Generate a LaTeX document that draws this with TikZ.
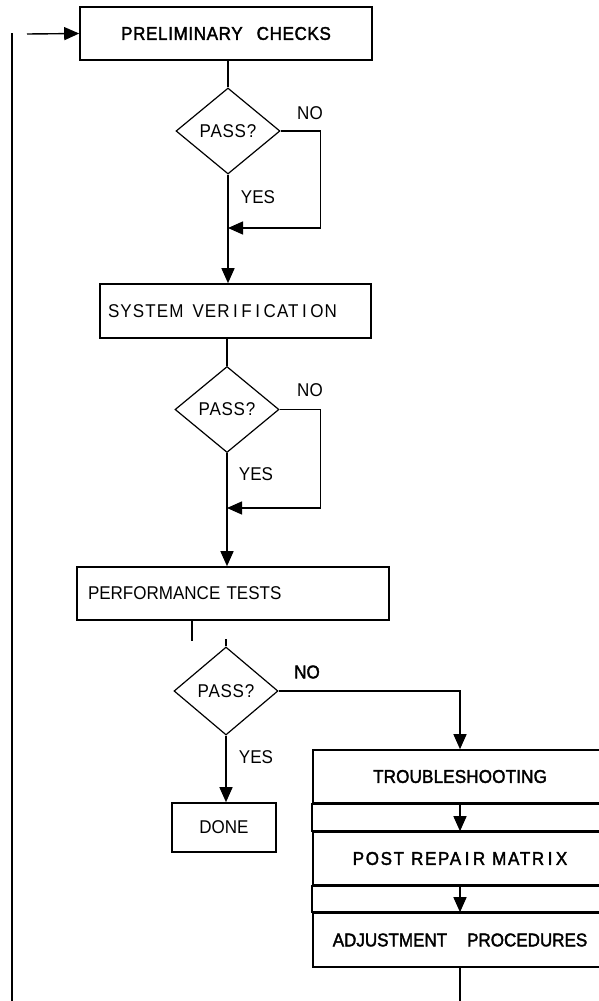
\documentclass[tikz,border=0pt]{standalone}
\usepackage{fontspec}
\setmainfont{Liberation Sans}[FakeStretch=0.92]
\newfontfamily\heavyfont[FakeBold=2,FakeStretch=0.92]{Liberation Sans}
\usetikzlibrary{arrows.meta}
\usetikzlibrary{shapes.geometric}
\newcommand{\wideI}{\kern3.5pt I\kern3.5pt}

\begin{document}
\begin{tikzpicture}[x=1pt, y=-1pt, >={Triangle[length=15pt,width=13pt]}, font=\fontsize{18.5}{21}\selectfont]
		\tikzstyle{box}=[rectangle, draw, line width=1.6pt, inner sep=0pt, minimum height=53pt]
		\tikzstyle{test}=[diamond, draw, line width=1.2pt, inner sep=0pt, minimum width=104pt, minimum height=86pt]
		\tikzstyle{connect}=[->, line width=1.4pt]
		\tikzstyle{answer}=[inner sep=0pt]
		\tikzstyle{heavy}=[font=\heavyfont\fontsize{18.5}{21}\selectfont]
		\useasboundingbox (0,0) rectangle (598,1001);
		% main column
		\node[box, heavy, minimum width=292pt] (prelim) at (226,33.5) {\addfontfeature{LetterSpace=3.5}PRELIMINARY\hspace{14pt}CHECKS};
		\node[test] (pass1) at (228,131) {\addfontfeature{LetterSpace=4}PASS?};
		\node[box, minimum width=271pt, minimum height=54pt, text width=255pt, inner xsep=8pt, align=left] (sysver) at (235.5,311) {\addfontfeature{LetterSpace=6}SYSTEM\hspace{9pt}VER\wideI F\wideI CAT\wideI ON};
		\node[test] (pass2) at (227,409.5) {\addfontfeature{LetterSpace=4}PASS?};
		\node[box, minimum width=312pt, text width=290pt, inner xsep=11pt, align=left] (perf) at (233,593.5) {PERFORMANCE TESTS};
		\node[test, minimum height=88pt] (pass3) at (226,691) {\addfontfeature{LetterSpace=4}PASS?};
		\node[box, minimum width=104pt, minimum height=49pt] (done) at (224,827.5) {DONE};
		% repair column
		\node[box, heavy, minimum width=294pt] (trouble) at (460,776.5) {\addfontfeature{LetterSpace=1}TROUBLESHOOTING};
		\node[box, heavy, minimum width=294pt] (postrep) at (460,858.5) {\addfontfeature{LetterSpace=9}POST\hspace{7pt}REPA\wideI R\hspace{7pt}MATR\wideI X};
		\node[box, heavy, minimum width=294pt, minimum height=54pt] (adjust) at (460,940) {ADJUSTMENT\hspace{20pt}PROCEDURES};
		% answers
		\node[answer] (no1) at (310,113) {NO};
		\node[answer] (yes1) at (258,197) {YES};
		\node[answer] (no2) at (310,390) {NO};
		\node[answer] (yes2) at (256,474) {YES};
		\node[answer, heavy] (no3) at (307,672) {NO};
		\node[answer] (yes3) at (256,757) {YES};
		% loose ends
		\coordinate (entry) at (27,34);
		\coordinate (looptop) at (12,33);
		\coordinate (loopbot) at (12,1001);
		\coordinate (exit) at (460,1001);
		\coordinate (j1) at (228,228);
		\coordinate (j2) at (227,508);
		\path
		(entry) edge [connect] (prelim.west)
		(pass1.south) edge [connect] (pass1.south |- sysver.north)
		(pass2.south) edge [connect] (pass2.south |- perf.north)
		(pass3.south) edge [connect] (pass3.south |- done.north)
		(trouble.south) edge [connect] (postrep.north)
		(postrep.south) edge [connect] (adjust.north)
		;
		\draw[line width=1.4pt] (pass1.north) -- (pass1.north |- prelim.south);
		\draw[line width=1.4pt] (pass2.north) -- (pass2.north |- sysver.south);
		\draw[line width=1.4pt] (perf.south -| 192,0) -- ++(0,20);
		\draw[line width=1.4pt] (pass3.north) -- ++(0,-7);
		\draw[connect] (pass1.east) -- ++(40,0) |- (j1);
		\draw[connect] (pass2.east) -- ++(41,0) |- (j2);
		\draw[connect] (pass3.east) -| (trouble.north);
		\draw[line width=1.6pt] (trouble.south west) rectangle (postrep.north east);
		\draw[line width=1.6pt] (postrep.south west) rectangle (adjust.north east);
		\draw[line width=1.6pt] (adjust.south) -- (exit);
		\draw[line width=1.8pt] (looptop) -- (loopbot);
	\end{tikzpicture}
\end{document}
